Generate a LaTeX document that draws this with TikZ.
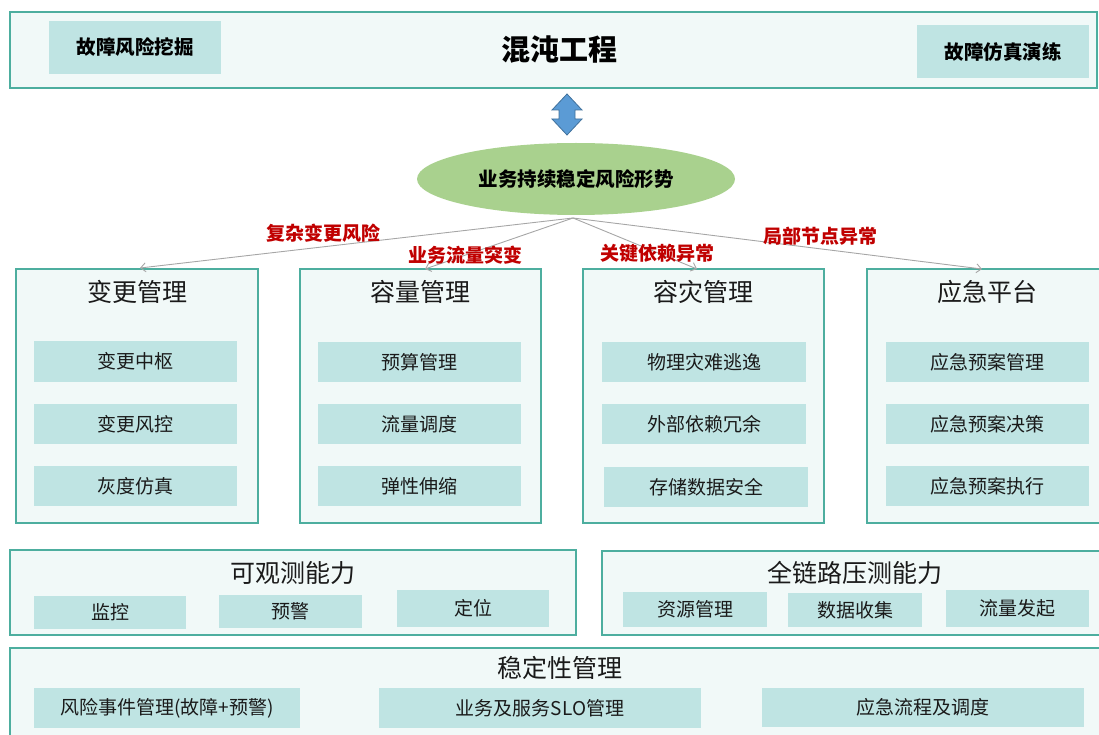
\documentclass[tikz,border=0pt]{standalone}
\usepackage{fontspec}
\setmainfont{Noto Sans CJK SC}
\usetikzlibrary{shapes.geometric,arrows.meta}
\definecolor{frame}{HTML}{4DAE9F}
\definecolor{panel}{HTML}{F1F9F8}
\definecolor{item}{HTML}{BFE4E3}
\definecolor{redlab}{HTML}{C00000}
\definecolor{ellfill}{HTML}{A9D18E}
\definecolor{arrfill}{HTML}{5B9BD5}
\definecolor{arrline}{HTML}{41719C}
\definecolor{txt}{HTML}{1A1A1A}
\tikzset{
  panelbox/.style={draw=frame,line width=1.2pt,fill=panel},
  itembox/.style={fill=item,draw=none,inner sep=0pt,text=txt,font=\fontsize{19}{21}\selectfont},
  boldbox/.style={fill=item,draw=none,inner sep=0pt,font=\bfseries\fontsize{19.5}{21}\selectfont},
  ttl/.style={inner sep=0pt,text=txt,font=\fontsize{25}{28}\selectfont},
  redtxt/.style={inner sep=0pt,text=redlab,font=\bfseries\fontsize{19}{21}\selectfont},
  link/.style={draw=black!35,line width=0.9pt,-{Straight Barb[length=5pt,width=9pt]}}
}
\newcommand{\itm}[6]{% name, x1, y1, x2, y2, text
  \node[itembox,minimum width={(#4-#2)*1pt},minimum height={(#5-#3)*1pt}] (#1) at ({(#2+#4)/2},{(#3+#5)/2}) {#6};}
\begin{document}
\begin{tikzpicture}[x=1pt,y=-1pt]
\useasboundingbox (0,0) rectangle (1099,735);
\clip (0,0) rectangle (1099,735);
% top box
\draw[panelbox] (10,12) rectangle (1097,88);
\node[boldbox,minimum width=172pt,minimum height=53pt] (mining) at (135,47.5) {故障风险挖掘};
\node[boldbox,minimum width=172pt,minimum height=53pt] (drill) at (1003,51.5) {故障仿真演练};
\node[inner sep=0pt,font=\bfseries\fontsize{29}{32}\selectfont] (chaos) at (559,50) {混沌工程};
% double arrow
\filldraw[fill=arrfill,draw=arrline,line width=0.8pt]
  (567,94) -- (582,110) -- (575,110) -- (575,119) -- (582,119) -- (567,135)
  -- (552,119) -- (559,119) -- (559,110) -- (552,110) -- cycle;
% ellipse
\node[ellipse,fill=ellfill,draw=none,minimum width=318pt,minimum height=72pt,inner sep=0pt,
  font=\bfseries\fontsize{19.5}{21}\selectfont] (risk) at (576,179) {业务持续稳定风险形势};
\coordinate (apex) at (573,218);
% four panels
\draw[panelbox] (16,269) rectangle (258,523);
\draw[panelbox] (300,269) rectangle (541,523);
\draw[panelbox] (583,269) rectangle (824,523);
\draw[panelbox] (867,269) rectangle (1110,523);
\coordinate (pA) at (140,268);
\coordinate (pB) at (425,269);
\coordinate (pC) at (697,269);
\coordinate (pD) at (982,269);
\node[ttl] (tA) at (137,292) {变更管理};
\node[ttl] (tB) at (420,292) {容量管理};
\node[ttl] (tC) at (703,292) {容灾管理};
\node[ttl] (tD) at (987,292) {应急平台};
\itm{a1}{34}{341}{237}{382}{变更中枢}
\itm{a2}{34}{404}{237}{444}{变更风控}
\itm{a3}{34}{466}{237}{506}{灰度仿真}
\itm{b1}{318}{342}{521}{382}{预算管理}
\itm{b2}{318}{404}{521}{444}{流量调度}
\itm{b3}{318}{466}{521}{506}{弹性伸缩}
\itm{c1}{602}{342}{806}{382}{物理灾难逃逸}
\itm{c2}{602}{404}{806}{444}{外部依赖冗余}
\itm{c3}{604}{467}{808}{507}{存储数据安全}
\itm{d1}{886}{342}{1089}{382}{应急预案管理}
\itm{d2}{886}{404}{1089}{444}{应急预案决策}
\itm{d3}{886}{466}{1089}{506}{应急预案执行}
% links
\draw[link] (apex) -- (pA);
\draw[link] (apex) -- (pB);
\draw[link] (apex) -- (pC);
\draw[link] (apex) -- (pD);
\node[redtxt] (lA) at (323,233) {复杂变更风险};
\node[redtxt] (lB) at (465,255) {业务流量突变};
\node[redtxt] (lC) at (657,253) {关键依赖异常};
\node[redtxt] (lD) at (820,236) {局部节点异常};
% observability
\draw[panelbox] (10,550) rectangle (576,635);
\node[ttl] (tE) at (293,573) {可观测能力};
\itm{e1}{34}{596}{186}{629}{监控}
\itm{e2}{219}{595}{362}{628}{预警}
\itm{e3}{397}{590}{549}{627}{定位}
% pressure test
\draw[panelbox] (602,551) rectangle (1110,635);
\node[ttl] (tF) at (855,573) {全链路压测能力};
\itm{f1}{623}{592}{767}{627}{资源管理}
\itm{f2}{788}{593}{922}{627}{数据收集}
\itm{f3}{946}{590}{1089}{627}{流量发起}
% stability
\draw[panelbox] (10,648) rectangle (1110,760);
\node[ttl] (tG) at (560,668) {稳定性管理};
\itm{g1}{34}{688}{300}{728}{风险事件管理(故障+预警)}
\itm{g2}{379}{688}{701}{728}{业务及服务SLO管理}
\itm{g3}{762}{688}{1084}{727}{应急流程及调度}
\end{tikzpicture}
\end{document}
